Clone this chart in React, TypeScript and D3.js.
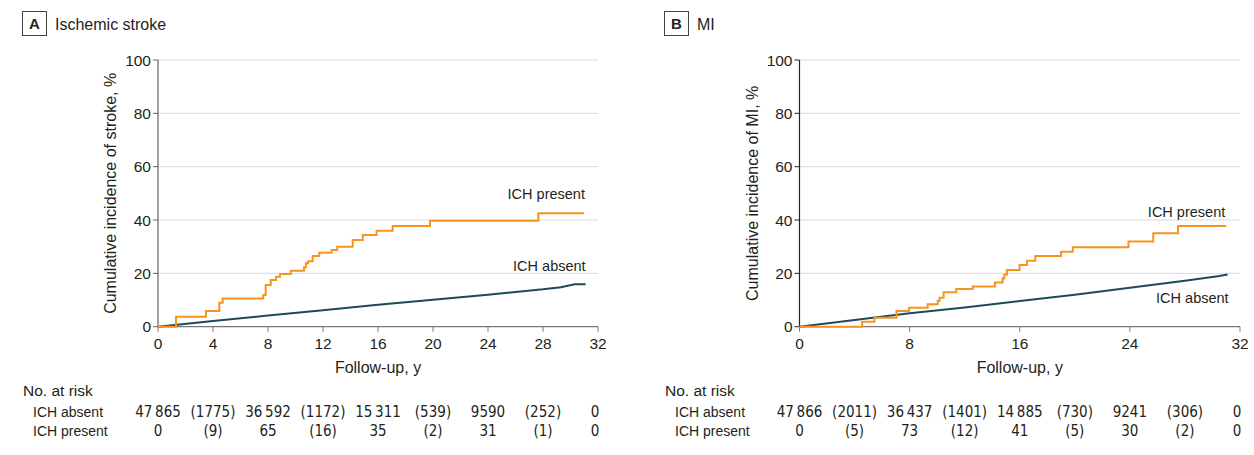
import React from 'react';
import * as d3 from 'd3';

// follow-up years where the risk table values sit
const riskTimes = [0, 8, 16, 24, 32];
const censorTimes = [4, 12, 20, 28];

// panel A: ischemic stroke, [years, cumulative %]
const strokePresent = [
  [0, 0], [1.31, 3.75], [3.49, 5.9], [4.46, 9.0], [4.7, 10.6], [7.66, 11.9],
  [7.83, 15.6], [8.2, 17.5], [8.58, 18.75], [8.87, 19.8], [9.65, 21.0],
  [10.62, 22.3], [10.76, 23.8], [10.91, 24.5], [11.25, 26.5], [11.73, 27.75],
  [12.63, 28.75], [13.04, 30.0], [14.16, 32.5], [14.89, 34.4], [15.9, 36.0],
  [17.07, 37.8], [19.78, 39.75], [27.66, 42.5], [30.98, 42.5]
];
const strokeAbsent = [
  [0, 0], [4, 2.1], [8, 4.2], [12, 6.2], [16, 8.2], [20, 10.1], [24, 12.0],
  [28, 14.0], [29.3, 14.8], [30.3, 15.9], [31.1, 15.9]
];
const strokeRiskAbsent = [47865, 36592, 15311, 9590, 0];
const strokeCensorAbsent = [1775, 1172, 539, 252];
const strokeRiskPresent = [0, 65, 35, 31, 0];
const strokeCensorPresent = [9, 16, 2, 1];

// panel B: MI
const miPresent = [
  [0, 0], [4.55, 1.9], [5.44, 3.4], [7.04, 5.9], [7.96, 7.1], [9.31, 8.4],
  [10.04, 9.75], [10.18, 10.9], [10.47, 12.9], [11.39, 14.1], [12.58, 15.1],
  [14.2, 16.6], [14.75, 18.1], [14.88, 19.6], [15.07, 21.3], [15.99, 23.1],
  [16.52, 24.75], [17.13, 26.5], [19.0, 28.1], [19.85, 29.75], [23.9, 31.9],
  [25.7, 35.0], [27.5, 37.75], [31.0, 37.75]
];
const miAbsent = [
  [0, 0], [4, 2.5], [8, 5.0], [12, 7.2], [16, 9.6], [20, 12.0], [24, 14.6],
  [28, 17.2], [30.5, 19.0], [31.1, 19.6]
];
const miRiskAbsent = [47866, 36437, 14885, 9241, 0];
const miCensorAbsent = [2011, 1401, 730, 306];
const miRiskPresent = [0, 73, 41, 30, 0];
const miCensorPresent = [5, 12, 5, 2];

const yTicks = [0, 20, 40, 60, 80, 100];
const strokeXTicks = [0, 4, 8, 12, 16, 20, 24, 28, 32];
const miXTicks = [0, 8, 16, 24, 32];

const ORANGE = '#f7931e';
const TEAL = '#1e4a58';
const FONT = '"Liberation Sans", Arial, sans-serif';
const NARROW = '"Liberation Sans Narrow", "DejaVu Sans Condensed", "Liberation Sans", sans-serif';

const fmt = (n) => (n >= 10000 ? d3.format(',')(n).replace(',', '\u2009') : String(n));

const Panel = ({ letter, title, yTitle, left, x0, x1, xTicks, present, absent,
  riskA, censA, riskP, censP, axisColor, presentLbl, absentLbl }) => {
  const x = d3.scaleLinear().domain([0, 32]).range([x0, x1]);
  const y = d3.scaleLinear().domain([0, 100]).range([326.7, 60]);
  const step = d3.line().x((d) => x(d[0])).y((d) => y(d[1])).curve(d3.curveStepAfter);
  const lin = d3.line().x((d) => x(d[0])).y((d) => y(d[1]));
  const pEnd = present[present.length - 1];
  const aEnd = absent[absent.length - 1];

  return (
    <g fontFamily={FONT} fill="#231f20">
      <rect x={left + 0.5} y={11.5} width={24} height={24} fill="none" stroke="#444" strokeWidth={1} />
      <text x={left + 12.5} y={29} textAnchor="middle" fontSize={15} fontWeight="bold">{letter}</text>
      <text x={left + 33} y={29.5} fontSize={16}>{title}</text>

      {yTicks.filter((t) => t > 0).map((t) => (
        <line key={t} x1={x0} x2={x1} y1={y(t)} y2={y(t)} stroke="#d9d9d9" strokeWidth={1} />
      ))}
      {yTicks.map((t) => (
        <g key={t}>
          <line x1={x0 - 5} x2={x0} y1={y(t)} y2={y(t)} stroke={axisColor} />
          <text x={x0 - 7} y={y(t) + 5.5} textAnchor="end" fontSize={15.5}>{t}</text>
        </g>
      ))}
      <line x1={x0} x2={x0} y1={y(100)} y2={y(0)} stroke={axisColor} strokeWidth={1.2} />
      <line x1={x0} x2={x1} y1={y(0)} y2={y(0)} stroke="#777" strokeWidth={1.2} />
      {xTicks.map((t) => (
        <g key={t}>
          <line x1={x(t)} x2={x(t)} y1={y(0)} y2={y(0) + 5} stroke="#777" />
          <text x={x(t)} y={349} textAnchor="middle" fontSize={15.5}>{t}</text>
        </g>
      ))}
      <text x={(x0 + x1) / 2} y={373} textAnchor="middle" fontSize={16}>Follow-up, y</text>
      <text transform={`translate(${x0 - 42},${(y(0) + y(100)) / 2}) rotate(-90)`} textAnchor="middle" fontSize={16}>{yTitle}</text>

      <path d={lin(absent)} fill="none" stroke={TEAL} strokeWidth={2} />
      <path d={step(present)} fill="none" stroke={ORANGE} strokeWidth={2} />
      <text x={x(pEnd[0]) + presentLbl[0]} y={y(pEnd[1]) + presentLbl[1]} textAnchor="end" fontSize={14.5}>ICH present</text>
      <text x={x(aEnd[0]) + absentLbl[0]} y={y(aEnd[1]) + absentLbl[1]} textAnchor="end" fontSize={14.5}>ICH absent</text>

      <text x={left + 1} y={396} fontSize={15.5}>No. at risk</text>
      <text x={left + 11} y={416.5} fontSize={14}>ICH absent</text>
      <text x={left + 11} y={436} fontSize={14}>ICH present</text>
      <g fontFamily={NARROW} fontSize={15} textAnchor="middle">
        {riskTimes.map((t, i) => (
          <g key={t}>
            <text x={i === 4 ? x(t) - 3 : x(t)} y={416.5}>{fmt(riskA[i])}</text>
            <text x={i === 4 ? x(t) - 3 : x(t)} y={436}>{fmt(riskP[i])}</text>
          </g>
        ))}
        {censorTimes.map((t, i) => (
          <g key={t}>
            <text x={x(t)} y={416.5}>({fmt(censA[i])})</text>
            <text x={x(t)} y={436}>({fmt(censP[i])})</text>
          </g>
        ))}
      </g>
    </g>
  );
};

export default function App() {
  return (
    <svg width={1254} height={455} style={{ position: 'absolute', left: 0, top: 0, background: '#fff' }}>
      <Panel letter="A" title="Ischemic stroke" yTitle="Cumulative incidence of stroke, %"
        left={22} x0={158} x1={598} xTicks={strokeXTicks}
        present={strokePresent} absent={strokeAbsent}
        riskA={strokeRiskAbsent} censA={strokeCensorAbsent}
        riskP={strokeRiskPresent} censP={strokeCensorPresent}
        axisColor="#666" presentLbl={[1, -14]} absentLbl={[0, -13.5]} />
      <Panel letter="B" title="MI" yTitle="Cumulative incidence of MI, %"
        left={664} x0={799.5} x1={1240} xTicks={miXTicks}
        present={miPresent} absent={miAbsent}
        riskA={miRiskAbsent} censA={miCensorAbsent}
        riskP={miRiskPresent} censP={miCensorPresent}
        axisColor="#222" presentLbl={[-1, -9]} absentLbl={[1, 29]} />
    </svg>
  );
}
